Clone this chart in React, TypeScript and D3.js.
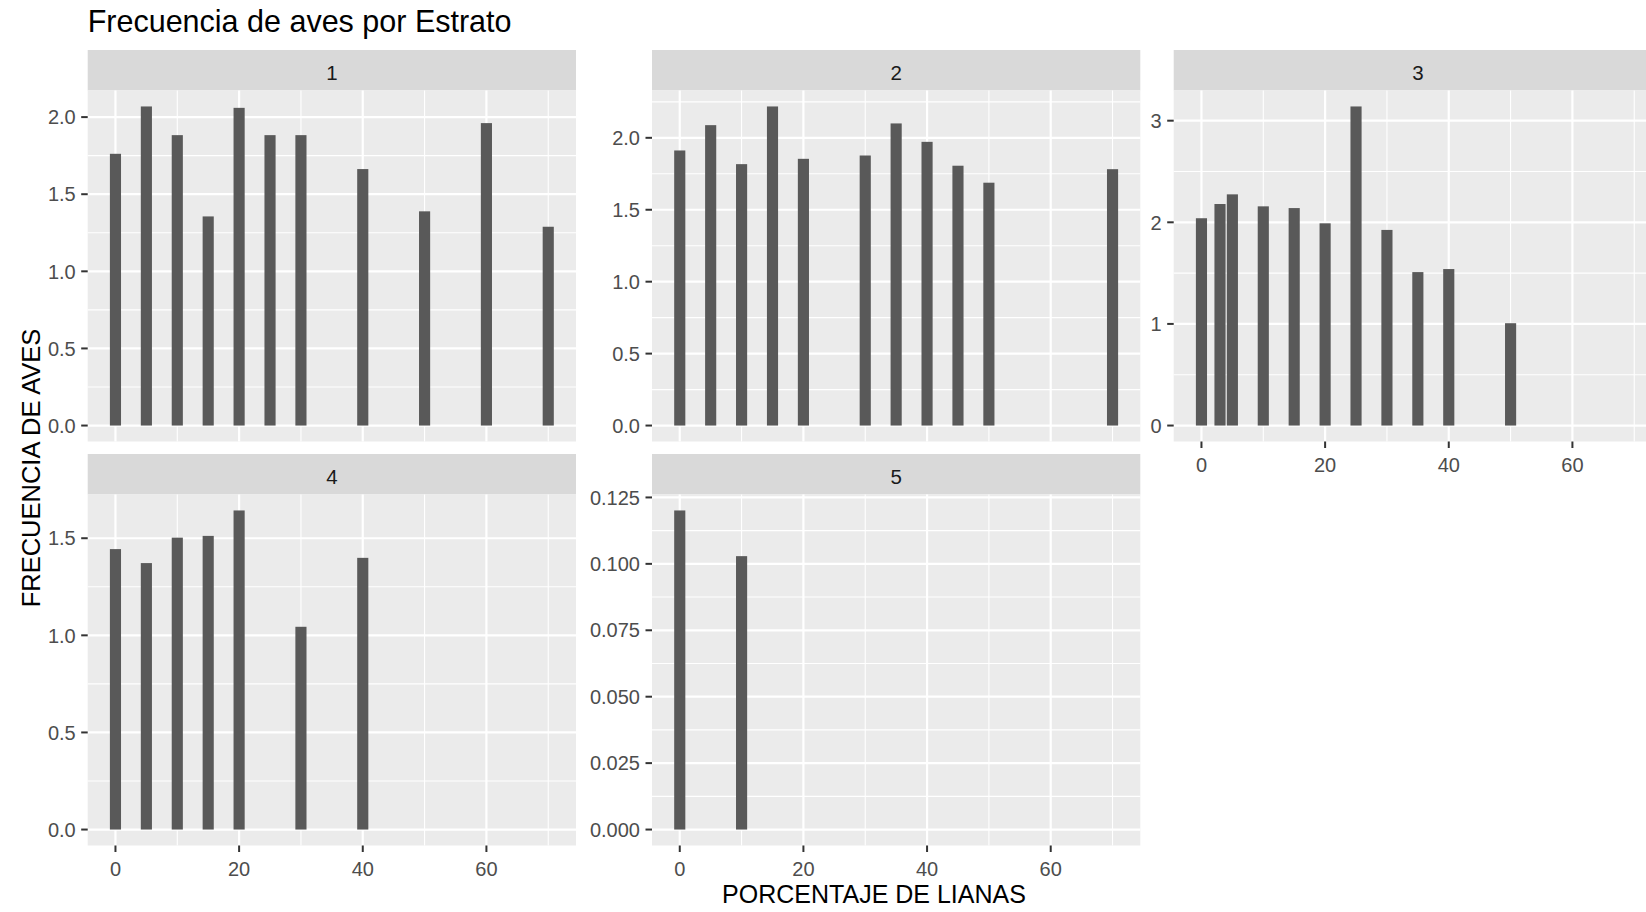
import React from "react";
import * as d3 from "d3";

// ---------- data ----------
const STRATA = ["1", "2", "3", "4", "5"];

const LIANAS_1 = [0, 5, 10, 15, 20, 25, 30, 40, 50, 60, 70];
const AVES_1 = [1.762, 2.069, 1.883, 1.356, 2.06, 1.883, 1.883, 1.663, 1.389, 1.961, 1.289];

const LIANAS_2 = [0, 5, 10, 15, 20, 30, 35, 40, 45, 50, 70];
const AVES_2 = [1.912, 2.088, 1.817, 2.218, 1.854, 1.877, 2.1, 1.972, 1.806, 1.688, 1.782];

const LIANAS_3 = [0, 3, 5, 10, 15, 20, 25, 30, 35, 40, 50];
const AVES_3 = [2.04, 2.18, 2.275, 2.157, 2.14, 1.99, 3.14, 1.925, 1.51, 1.54, 1.007];

const LIANAS_4 = [0, 5, 10, 15, 20, 30, 40];
const AVES_4 = [1.444, 1.372, 1.503, 1.512, 1.643, 1.044, 1.399];

const LIANAS_5 = [0, 10];
const AVES_5 = [0.1201, 0.1029];

const Y_TICKS_1 = [0, 0.5, 1, 1.5, 2];
const Y_TICKS_2 = [0, 0.5, 1, 1.5, 2];
const Y_TICKS_3 = [0, 1, 2, 3];
const Y_TICKS_4 = [0, 0.5, 1, 1.5];
const Y_TICKS_5 = [0, 0.025, 0.05, 0.075, 0.1, 0.125];
const Y_FORMATS = [".1f", ".1f", "d", ".1f", ".3f"];

const X_TICKS = [0, 20, 40, 60];

const TITLE = "Frecuencia de aves por Estrato";
const X_TITLE = "PORCENTAJE DE LIANAS";
const Y_TITLE = "FRECUENCIA DE AVES";

// ---------- layout ----------
const W = 1646;
const H = 912;
const COL_X = [87.7, 652, 1173.7];
const ROW_Y = [50, 454];
const PANEL_W = 488.3;
const STRIP_H = 40.5;
const PANEL_H = 351;
const FONT = "'Liberation Sans', Arial, Helvetica, sans-serif";

const SERIES = [
  { x: LIANAS_1, y: AVES_1, ticks: Y_TICKS_1 },
  { x: LIANAS_2, y: AVES_2, ticks: Y_TICKS_2 },
  { x: LIANAS_3, y: AVES_3, ticks: Y_TICKS_3 },
  { x: LIANAS_4, y: AVES_4, ticks: Y_TICKS_4 },
  { x: LIANAS_5, y: AVES_5, ticks: Y_TICKS_5 },
];
const POS = [
  { c: 0, r: 0, xAxis: false },
  { c: 1, r: 0, xAxis: false },
  { c: 2, r: 0, xAxis: true },
  { c: 0, r: 1, xAxis: true },
  { c: 1, r: 1, xAxis: true },
];

// bar width = 0.9 * resolution across all x values
const allX = Array.from(new Set(SERIES.flatMap((s) => s.x))).sort((a, b) => a - b);
let res = Infinity;
for (let i = 1; i < allX.length; i++) res = Math.min(res, allX[i] - allX[i - 1]);
const BAR_W = 0.9 * res;
const xLo = (d3.min(allX) as number) - BAR_W / 2;
const xHi = (d3.max(allX) as number) + BAR_W / 2;
const xPad = (xHi - xLo) * 0.05;

function minorBreaks(ticks: number[], lo: number, hi: number) {
  const step = ticks[1] - ticks[0];
  const ext = [ticks[0] - step, ...ticks, ticks[ticks.length - 1] + step];
  const out: number[] = [];
  for (let i = 1; i < ext.length; i++) {
    const m = (ext[i] + ext[i - 1]) / 2;
    if (m >= lo && m <= hi) out.push(m);
  }
  return out;
}

function Panel({ idx }: { idx: number }) {
  const s = SERIES[idx];
  const p = POS[idx];
  const left = COL_X[p.c];
  const stripTop = ROW_Y[p.r];
  const top = stripTop + STRIP_H;
  const bottom = top + PANEL_H;
  const right = left + PANEL_W;

  const x = d3.scaleLinear().domain([xLo - xPad, xHi + xPad]).range([left, right]);
  const yMax = d3.max(s.y) as number;
  const yPad = yMax * 0.05;
  const y = d3.scaleLinear().domain([-yPad, yMax + yPad]).range([bottom, top]);
  const fmt = d3.format(Y_FORMATS[idx]);

  const xMinor = minorBreaks(X_TICKS, x.domain()[0], x.domain()[1]);
  const yMinor = minorBreaks(s.ticks, y.domain()[0], y.domain()[1]);

  return (
    <g>
      <rect x={left} y={stripTop} width={PANEL_W} height={STRIP_H} fill="#D9D9D9" />
      <text
        x={(left + right) / 2}
        y={stripTop + STRIP_H / 2 + 9.5}
        fontSize={20.5}
        fill="#1A1A1A"
        textAnchor="middle"
      >
        {STRATA[idx]}
      </text>
      <rect x={left} y={top} width={PANEL_W} height={PANEL_H} fill="#EBEBEB" />
      {yMinor.map((v) => (
        <line key={"ym" + v} x1={left} x2={right} y1={y(v)} y2={y(v)} stroke="#fff" strokeWidth={1.1} />
      ))}
      {xMinor.map((v) => (
        <line key={"xm" + v} x1={x(v)} x2={x(v)} y1={top} y2={bottom} stroke="#fff" strokeWidth={1.1} />
      ))}
      {s.ticks.map((v) => (
        <line key={"yM" + v} x1={left} x2={right} y1={y(v)} y2={y(v)} stroke="#fff" strokeWidth={2.2} />
      ))}
      {X_TICKS.map((v) => (
        <line key={"xM" + v} x1={x(v)} x2={x(v)} y1={top} y2={bottom} stroke="#fff" strokeWidth={2.2} />
      ))}
      {s.x.map((xv, i) => (
        <rect
          key={"b" + i}
          x={x(xv - BAR_W / 2)}
          width={x(xv + BAR_W / 2) - x(xv - BAR_W / 2)}
          y={y(s.y[i])}
          height={y(0) - y(s.y[i])}
          fill="#595959"
        />
      ))}
      {s.ticks.map((v) => (
        <g key={"yt" + v}>
          <line x1={left - 6.5} x2={left} y1={y(v)} y2={y(v)} stroke="#333333" strokeWidth={2} />
          <text
            x={left - 12}
            y={y(v) + 7.2}
            fontSize={20}
            fill="#4D4D4D"
            textAnchor="end"
          >
            {fmt(v)}
          </text>
        </g>
      ))}
      {p.xAxis &&
        X_TICKS.map((v) => (
          <g key={"xt" + v}>
            <line x1={x(v)} x2={x(v)} y1={bottom} y2={bottom + 6.5} stroke="#333333" strokeWidth={2} />
            <text x={x(v)} y={bottom + 30} fontSize={20} fill="#4D4D4D" textAnchor="middle">
              {String(v)}
            </text>
          </g>
        ))}
    </g>
  );
}

export default function App() {
  return (
    <svg
      width={W}
      height={H}
      viewBox={`0 0 ${W} ${H}`}
      style={{ position: "absolute", left: 0, top: 0, background: "#fff" }}
      fontFamily={FONT}
    >
      <rect x={0} y={0} width={W} height={H} fill="#fff" />
      <text x={87.7} y={32} fontSize={30.5} fill="#000">
        {TITLE}
      </text>
      {STRATA.map((_, i) => (
        <Panel key={i} idx={i} />
      ))}
      <text x={874} y={903} fontSize={25} fill="#000" textAnchor="middle">
        {X_TITLE}
      </text>
      <text
        transform={`translate(39.5, 468) rotate(-90)`}
        fontSize={25.5}
        fill="#000"
        textAnchor="middle"
      >
        {Y_TITLE}
      </text>
    </svg>
  );
}
